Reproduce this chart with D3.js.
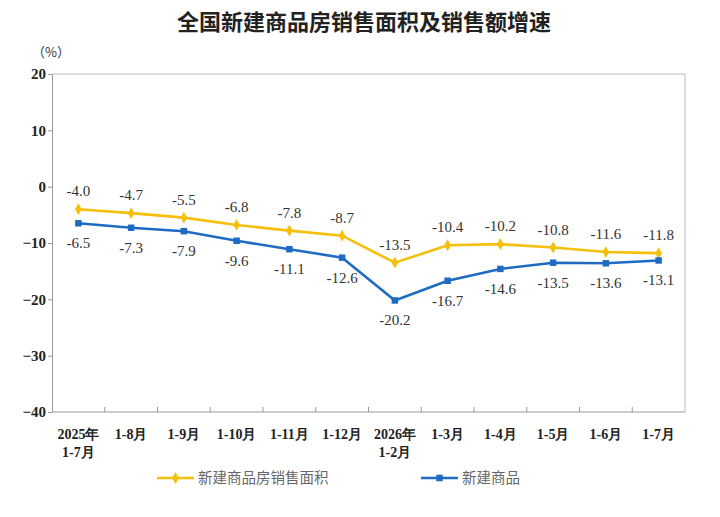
<!DOCTYPE html>
<html lang="zh">
  <head>
    <meta charset="utf-8">
    <title>全国新建商品房销售面积及销售额增速</title>
    <script src="https://cdn.jsdelivr.net/npm/d3@7/dist/d3.min.js"></script>
    <style media="screen">
      body{
        margin: 0;
        background: #fff;
      }
      .num{ font-family: "Liberation Serif", "DejaVu Serif", serif; }
      .cjk{ font-family: "Noto Sans CJK SC", sans-serif; }
    </style>
  </head>
  <body>
    <script type="text/javascript">

      // data
      let months = ['2025年\n1-7月','1-8月','1-9月','1-10月','1-11月','1-12月',
                    '2026年\n1-2月','1-3月','1-4月','1-5月','1-6月','1-7月'];
      let areaGrowth = [-4.0,-4.7,-5.5,-6.8,-7.8,-8.7,-13.5,-10.4,-10.2,-10.8,-11.6,-11.8];
      let salesGrowth = [-6.5,-7.3,-7.9,-9.6,-11.1,-12.6,-20.2,-16.7,-14.6,-13.5,-13.6,-13.1];
      let yTicks = [20,10,0,-10,-20,-30,-40];
      let seriesNames = ['新建商品房销售面积','新建商品'];

      let yellow = "#f5bf0a",
          blue = "#1f6bc4";

      let W = 720, H = 517;
      let margin = {top: 74, right: 35, bottom: 105, left: 52};

      let svg = d3.select("body").append("svg")
                  .attr("width", W)
                  .attr("height", H);

      let x = d3.scaleBand()
                .domain(d3.range(months.length))
                .range([margin.left, W - margin.right]);
      let y = d3.scaleLinear()
                .domain([-40, 20])
                .range([H - margin.bottom, margin.top]);

      let cx = i => x(i) + x.bandwidth()/2;

      // title
      svg.append("text")
         .attr("class","cjk")
         .attr("x", 364).attr("y", 30)
         .attr("text-anchor","middle")
         .attr("font-size", 22)
         .attr("font-weight","bold")
         .attr("fill","#222")
         .text("全国新建商品房销售面积及销售额增速");

      svg.append("text")
         .attr("class","cjk")
         .attr("x", 51).attr("y", 57)
         .attr("text-anchor","middle")
         .attr("font-size", 13)
         .attr("fill","#333")
         .text("（%）");

      // frame: top and right border
      svg.append("path")
         .attr("d", `M${margin.left},${margin.top}H${W - margin.right}V${H - margin.bottom}`)
         .attr("fill","none")
         .attr("stroke","#bbb")
         .attr("stroke-width",1);

      // y axis
      let yAxis = svg.append("g")
         .attr("transform", `translate(${margin.left},0)`)
         .call(d3.axisLeft(y).tickValues(yTicks).tickSize(4).tickSizeOuter(0));
      yAxis.select(".domain").attr("stroke","#999");
      yAxis.selectAll(".tick line").attr("stroke","#999");
      yAxis.selectAll(".tick text")
           .attr("class","num")
           .attr("font-size",15)
           .attr("font-weight","bold")
           .attr("fill","#222")
           .attr("x",-6);

      // x axis, ticks between categories pointing up
      let xg = svg.append("g")
         .attr("transform", `translate(0,${H - margin.bottom})`);
      xg.append("line")
        .attr("x1", margin.left).attr("x2", W - margin.right)
        .attr("stroke","#999");
      xg.selectAll(".xt")
        .data(d3.range(1, months.length))
        .enter().append("line")
        .attr("class","xt")
        .attr("x1", d => x(d)).attr("x2", d => x(d))
        .attr("y1", 0).attr("y2", -5)
        .attr("stroke","#999");
      let xl = xg.selectAll(".xl")
        .data(months)
        .enter().append("text")
        .attr("class","xl num")
        .attr("text-anchor","middle")
        .attr("font-size",14)
        .attr("font-weight","bold")
        .attr("fill","#222");
      xl.each(function(d, i){
        let parts = d.split("\n");
        d3.select(this).selectAll("tspan")
          .data(parts)
          .enter().append("tspan")
          .attr("x", cx(i))
          .attr("y", (p, j) => 27 + j*18)
          .text(p => p);
      });

      let line = d3.line()
                   .x((d, i) => cx(i))
                   .y(d => y(d));

      // series lines
      svg.append("path")
         .datum(areaGrowth)
         .attr("d", line)
         .attr("fill","none")
         .attr("stroke", yellow)
         .attr("stroke-width", 2.6);
      svg.append("path")
         .datum(salesGrowth)
         .attr("d", line)
         .attr("fill","none")
         .attr("stroke", blue)
         .attr("stroke-width", 2.6);

      let diamond = d3.symbol().type(d3.symbolDiamond).size(40);
      let square = d3.symbol().type(d3.symbolSquare).size(42);

      svg.selectAll(".ym")
         .data(areaGrowth)
         .enter().append("path")
         .attr("class","ym")
         .attr("d", diamond)
         .attr("transform", (d, i) => `translate(${cx(i)},${y(d)})`)
         .attr("fill", yellow);
      svg.selectAll(".bm")
         .data(salesGrowth)
         .enter().append("path")
         .attr("class","bm")
         .attr("d", square)
         .attr("transform", (d, i) => `translate(${cx(i)},${y(d)})`)
         .attr("fill", blue);

      // value labels
      svg.selectAll(".yl")
         .data(areaGrowth)
         .enter().append("text")
         .attr("class","yl num")
         .attr("x", (d, i) => cx(i))
         .attr("y", d => y(d) - 13)
         .attr("text-anchor","middle")
         .attr("font-size",15)
         .attr("fill","#333")
         .text(d => d.toFixed(1));
      svg.selectAll(".bl")
         .data(salesGrowth)
         .enter().append("text")
         .attr("class","bl num")
         .attr("x", (d, i) => cx(i))
         .attr("y", d => y(d) + 25)
         .attr("text-anchor","middle")
         .attr("font-size",15)
         .attr("fill","#333")
         .text(d => d.toFixed(1));

      // legend
      let legend = svg.append("g").attr("transform","translate(0,478)");
      let items = [
        {name: seriesNames[0], color: yellow, sym: diamond, x0: 157},
        {name: seriesNames[1], color: blue, sym: square, x0: 421}
      ];
      items.forEach(function(it){
        legend.append("line")
              .attr("x1", it.x0).attr("x2", it.x0 + 37)
              .attr("stroke", it.color)
              .attr("stroke-width", 2.6);
        legend.append("path")
              .attr("d", it.sym)
              .attr("transform", `translate(${it.x0 + 18.5},0)`)
              .attr("fill", it.color);
        legend.append("text")
              .attr("class","cjk")
              .attr("x", it.x0 + 41).attr("y", 5)
              .attr("font-size",14.5)
              .attr("fill","#666")
              .text(it.name);
      });

    </script>
  </body>
</html>
